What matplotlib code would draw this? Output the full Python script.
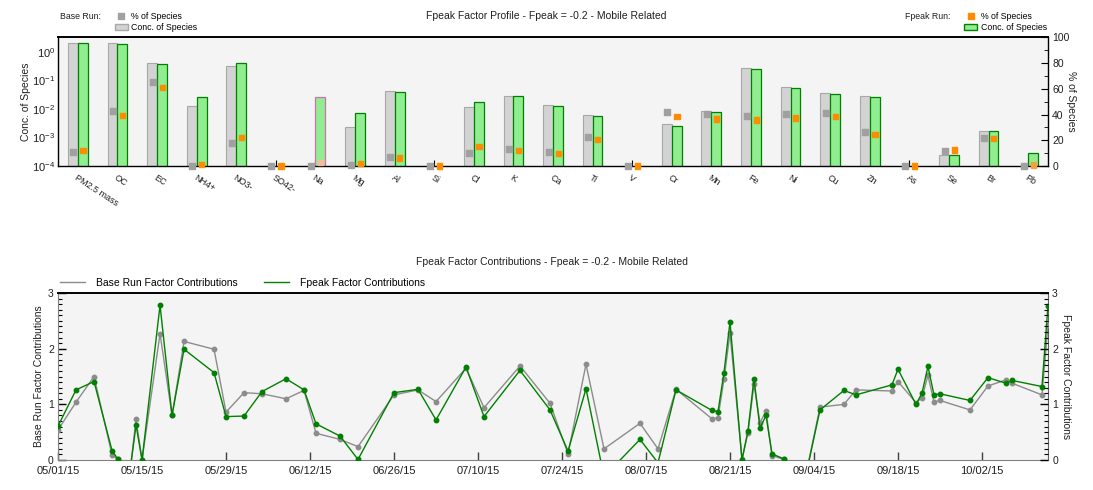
import numpy as np
import pandas as pd
import matplotlib
matplotlib.use('Agg')
import matplotlib.pyplot as plt
import matplotlib.dates as mdates
from matplotlib.lines import Line2D
from matplotlib.patches import Patch
from matplotlib.ticker import MultipleLocator

plt.rcParams['font.family'] = ['Liberation Sans', 'DejaVu Sans']

# ---- factor profile data ----
species = ['PM2.5 mass', 'OC', 'EC', 'NH4+', 'NO3-', 'SO42-', 'Na', 'Mg', 'Al', 'Si',
           'Cl', 'K', 'Ca', 'Ti', 'V', 'Cr', 'Mn', 'Fe', 'Ni', 'Cu', 'Zn', 'As',
           'Se', 'Br', 'Pb']
base_conc = [2.1, 2.1, 0.39, 0.0122, 0.306, 0, 0, 0.00225, 0.0419, 0,
             0.0113, 0.0274, 0.0132, 0.0059, 0, 0.00287, 0.00815, 0.26, 0.056, 0.0347, 0.0274, 0,
             0.000236, 0.00163, 0]
fpeak_conc = [2.05, 1.8, 0.36, 0.0266, 0.39, 0, 0.0266, 0.0073, 0.0377, 0,
              0.0169, 0.0274, 0.0122, 0.00546, 0, 0.00244, 0.0075, 0.24, 0.052, 0.032, 0.025, 0,
              0.000236, 0.00163, 0.000278]
base_pct = [11.1, 43.0, 65.0, 0.0, 18.1, 0.0, 0.0, 0.5, 7.0, 0.0,
            9.8, 13.0, 10.6, 22.8, 0.0, 42.2, 40.2, 38.6, 40.2, 40.9, 26.2, 0.0,
            11.7, 21.5, 0.0]
fpeak_pct = [11.9, 39.4, 60.9, 1.3, 22.3, 0.0, 2.6, 2.1, 6.2, 0.0,
             15.3, 12.2, 9.8, 20.7, 0.0, 38.6, 36.5, 35.7, 37.3, 38.6, 24.6, 0.0,
             12.4, 21.5, 0.8]

# ---- factor contributions data ----
dates = ['2015-05-01', '2015-05-04', '2015-05-07', '2015-05-10', '2015-05-11', '2015-05-13',
         '2015-05-14', '2015-05-15', '2015-05-18', '2015-05-20', '2015-05-22', '2015-05-27',
         '2015-05-29', '2015-06-01', '2015-06-04', '2015-06-08', '2015-06-11', '2015-06-13',
         '2015-06-17', '2015-06-20', '2015-06-26', '2015-06-30', '2015-07-03', '2015-07-08',
         '2015-07-11', '2015-07-17', '2015-07-22', '2015-07-25', '2015-07-28', '2015-07-31',
         '2015-08-06', '2015-08-09', '2015-08-12', '2015-08-18', '2015-08-19', '2015-08-20',
         '2015-08-21', '2015-08-23', '2015-08-24', '2015-08-25', '2015-08-26', '2015-08-27',
         '2015-08-28', '2015-08-30', '2015-09-02', '2015-09-05', '2015-09-09', '2015-09-11',
         '2015-09-17', '2015-09-18', '2015-09-21', '2015-09-22', '2015-09-23', '2015-09-24',
         '2015-09-25', '2015-09-30', '2015-10-03', '2015-10-06', '2015-10-07', '2015-10-12',
         '2015-10-13']
base_contrib = [0.54, 1.04, 1.50, 0.09, 0.01, -0.20, 0.73, 0.00, 2.27, 0.80, 2.13, 1.99,
                0.86, 1.21, 1.19, 1.10, 1.25, 0.48, 0.37, 0.24, 1.17, 1.26, 1.05, 1.65,
                0.94, 1.69, 1.02, 0.11, 1.72, 0.20, 0.66, 0.20, 1.27, 0.74, 0.76, 1.45,
                2.28, 0.01, 0.49, 1.36, 0.67, 0.88, 0.08, 0.01, -0.60, 0.95, 1.00, 1.26,
                1.24, 1.41, 1.03, 1.12, 1.52, 1.04, 1.07, 0.90, 1.33, 1.44, 1.38, 1.17,
                2.42]
fpeak_contrib = [0.61, 1.26, 1.41, 0.17, 0.01, -0.20, 0.63, 0.00, 2.78, 0.80, 1.99, 1.57,
                 0.78, 0.79, 1.23, 1.46, 1.26, 0.65, 0.43, 0.01, 1.21, 1.27, 0.72, 1.67,
                 0.78, 1.61, 0.90, 0.16, 1.28, -0.30, 0.37, -0.05, 1.26, 0.89, 0.87, 1.57,
                 2.48, 0.00, 0.53, 1.46, 0.57, 0.80, 0.11, 0.02, -0.60, 0.90, 1.25, 1.17,
                 1.35, 1.63, 1.00, 1.20, 1.68, 1.17, 1.19, 1.07, 1.48, 1.38, 1.43, 1.32,
                 2.77]

GRAY_FACE = '#d3d3d3'
GRAY_EDGE = '#a8a8a8'
GRAY_MARK = '#a0a0a0'
GREEN_FACE = '#90ee90'
GREEN_EDGE = '#008000'
ORANGE = '#ff8c00'
BG = '#f4f4f4'
TXT = '#202020'
FS = 7.5

fig = plt.figure(figsize=(10.93, 4.90), dpi=100)

# ================= top: factor profile =================
ax1 = fig.add_axes([0.0531, 0.6612, 0.9057, 0.2627])
ax1.set_facecolor(BG)
x = np.arange(len(species))
w = 0.25
edge_g = [GREEN_EDGE] * len(species)
edge_g[species.index('Na')] = '#d070b0'
ax1.bar(x - w / 2, base_conc, width=w, color=GRAY_FACE, edgecolor=GRAY_EDGE, linewidth=0.8, zorder=2)
ax1.bar(x + w / 2, fpeak_conc, width=w, color=GREEN_FACE, edgecolor=edge_g, linewidth=0.9, zorder=2)
ax1.set_yscale('log')
ax1.set_ylim(1e-4, 3.2)
ax1.set_xlim(-0.5, len(species) - 0.5)
ax1.set_xticks(x)
ax1.set_xticklabels(species, rotation=-33, ha='left', va='top', rotation_mode='anchor',
                    fontsize=6.5, color=TXT)
ax1.tick_params(axis='x', direction='in', length=4, width=0.8, pad=5)
ax1.tick_params(axis='y', which='both', direction='in', length=0, labelsize=8, labelcolor=TXT, pad=2)
ax1.set_ylabel('Conc. of Species', fontsize=FS, color=TXT, labelpad=1)
for s in ax1.spines.values():
    s.set_color('black')
    s.set_linewidth(1.0)
ax1.spines['top'].set_linewidth(1.4)

ax1r = ax1.twinx()
ax1r.set_ylim(0, 100)
ax1r.scatter(x - 0.11, base_pct, marker='s', s=14, color=GRAY_MARK, zorder=3, clip_on=False)
pct_colors = [ORANGE] * len(species)
pct_colors[species.index('Na')] = '#f8b8a0'
pct_colors[species.index('Pb')] = '#f8a040'
ax1r.scatter(x + 0.13, fpeak_pct, marker='s', s=14, color=pct_colors, zorder=3, clip_on=False)
ax1r.yaxis.set_major_locator(MultipleLocator(20))
ax1r.yaxis.set_minor_locator(MultipleLocator(10))
ax1r.tick_params(axis='y', which='major', direction='in', length=5, labelsize=FS, labelcolor=TXT, pad=3)
ax1r.tick_params(axis='y', which='minor', direction='in', length=3)
ax1r.set_ylabel('% of Species', fontsize=FS, color=TXT, rotation=270, labelpad=5)
for s in ax1r.spines.values():
    s.set_visible(False)

fig.text(0.5, 0.967, 'Fpeak Factor Profile - Fpeak = -0.2 - Mobile Related',
         ha='center', va='center', fontsize=FS, color=TXT)

# legends for the profile
fig.text(0.055, 0.967, 'Base Run:', ha='left', va='center', fontsize=6.3, color=TXT)
h_base = [Line2D([], [], ls='', marker='s', markersize=4, color=GRAY_MARK),
          Patch(facecolor=GRAY_FACE, edgecolor=GRAY_EDGE)]
fig.legend(h_base, ['% of Species', 'Conc. of Species'], loc='upper left',
           bbox_to_anchor=(0.101, 0.984), frameon=False, fontsize=6.3, handlelength=1.5,
           handleheight=0.7, labelspacing=0.25, borderpad=0, handletextpad=0.4)
fig.text(0.828, 0.967, 'Fpeak Run:', ha='left', va='center', fontsize=6.3, color=TXT)
h_fp = [Line2D([], [], ls='', marker='s', markersize=4, color=ORANGE),
        Patch(facecolor=GREEN_FACE, edgecolor=GREEN_EDGE)]
fig.legend(h_fp, ['% of Species', 'Conc. of Species'], loc='upper left',
           bbox_to_anchor=(0.878, 0.984), frameon=False, fontsize=6.3, handlelength=1.5,
           handleheight=0.7, labelspacing=0.25, borderpad=0, handletextpad=0.4)

# ================= bottom: factor contributions =================
t = pd.to_datetime(dates)
ax2 = fig.add_axes([0.0531, 0.0612, 0.9057, 0.3408])
ax2.set_facecolor(BG)
l1, = ax2.plot(t, base_contrib, '-o', color='#8c8c8c', lw=1.0, markersize=3.2,
               label='Base Run Factor Contributions', zorder=3)
l2, = ax2.plot(t, fpeak_contrib, '-o', color='#008000', lw=1.0, markersize=3.2,
               label='Fpeak Factor Contributions', zorder=4)
ax2.set_ylim(0, 3)
ax2.set_xlim(pd.Timestamp('2015-05-01'), pd.Timestamp('2015-10-13'))
ax2.set_xticks(pd.date_range('2015-05-01', periods=12, freq='14D'))
ax2.xaxis.set_major_formatter(mdates.DateFormatter('%m/%d/%y'))
ax2.tick_params(axis='x', direction='in', length=6, width=1.0, color='#404040',
                labelsize=8, labelcolor=TXT, pad=4)
ax2.yaxis.set_major_locator(MultipleLocator(1))
ax2.yaxis.set_minor_locator(MultipleLocator(0.1))
ax2.tick_params(axis='y', which='major', direction='in', length=6, width=1.0,
                labelsize=FS, labelcolor=TXT, pad=3)
ax2.tick_params(axis='y', which='minor', direction='in', length=3, width=0.8)
ax2.set_ylabel('Base Run Factor Contributions', fontsize=FS, color=TXT, labelpad=3)
for side in ['left', 'bottom']:
    ax2.spines[side].set_color('#808080')
ax2.spines['top'].set_color('black')
ax2.spines['top'].set_linewidth(1.4)
ax2.spines['right'].set_color('#606060')

ax2r = ax2.twinx()
ax2r.set_ylim(0, 3)
ax2r.yaxis.set_major_locator(MultipleLocator(1))
ax2r.yaxis.set_minor_locator(MultipleLocator(0.1))
ax2r.tick_params(axis='y', which='major', direction='in', length=6, width=1.0,
                 labelsize=FS, labelcolor=TXT, pad=3)
ax2r.tick_params(axis='y', which='minor', direction='in', length=3, width=0.8)
ax2r.set_ylabel('Fpeak Factor Contributions', fontsize=FS, color=TXT, rotation=270, labelpad=9)
for s in ax2r.spines.values():
    s.set_visible(False)

fig.text(0.505, 0.465, 'Fpeak Factor Contributions - Fpeak = -0.2 - Mobile Related',
         ha='center', va='center', fontsize=FS, color=TXT)
ax2.legend(handles=[l1, l2], loc='lower left', bbox_to_anchor=(0.0, 1.02), ncol=2,
           frameon=False, fontsize=FS, handlelength=2.4, columnspacing=2.6,
           handletextpad=1.0, borderpad=0.2, borderaxespad=0)
for ln in ax2.get_legend().get_lines():
    ln.set_marker('')

fig.savefig('out.png', dpi=100)
